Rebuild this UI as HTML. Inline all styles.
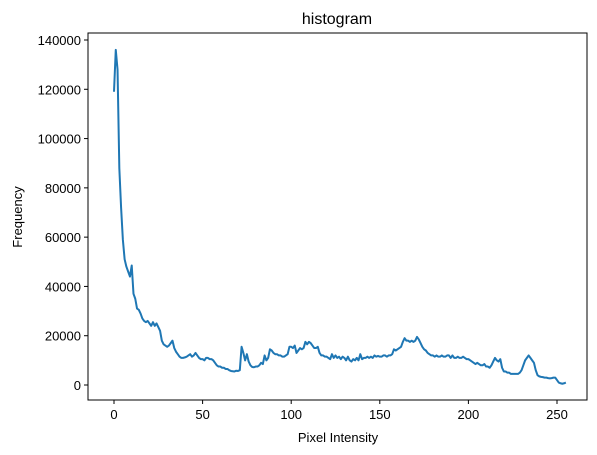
<!DOCTYPE html>
<html><head><meta charset="utf-8"><style>
body{margin:0;background:#fff;}
svg{display:block;font-family:"Liberation Sans","DejaVu Sans",sans-serif;}
</style></head><body>
<svg id="chart" width="597" height="455">
<rect x="0" y="0" width="597" height="455" fill="#fff"/>
<text x="337" y="24" text-anchor="middle" font-size="16">histogram</text>
<text x="338" y="442" text-anchor="middle" font-size="13">Pixel Intensity</text>
<text transform="translate(22,217) rotate(-90)" text-anchor="middle" font-size="13">Frequency</text>
<g id="ticks"></g>
<path id="line" fill="none" stroke="#1f77b4" stroke-width="2" stroke-linejoin="round"/>
<rect x="88" y="33" width="499" height="367" fill="none" stroke="#000" stroke-width="1"/>
</svg>
<script>
const xTicks=[0,50,100,150,200,250];
const yTicks=[0,20000,40000,60000,80000,100000,120000,140000];
const freqK=[119,136,128,88,72,59,51,48,46,44,48.5,37,35,31,30.5,29,27,26,25.5,26,25,24,25.5,24,25,23.5,22,18,16.5,16,15.5,16,17,18,15,13.5,12.5,11.5,11,11,11.2,11.5,12,12.5,11.5,12,13,12,11,10.5,10.5,10,11,11,10.5,10.5,10,9,8,7.5,7.5,7,7,6.5,6.5,6,5.7,5.6,5.5,5.8,5.7,6,15.5,13,10,12.5,9.5,8,7.3,7.2,7.5,7.5,8,9,8.5,12,10,11,14.5,14,13,12.5,12.5,12,12,11.5,11.5,12,12.5,15.5,15.5,15,16,13,14,15,14.5,15,17.5,16.5,17.5,17,16,15,15,15.5,13,12,12,11.5,11.5,11,10.5,12.5,11,12,11,11.5,10.5,11.5,11,10,11.5,10,9.5,10.5,10,11,10,12.5,10.5,11,11,11.5,11,11.5,11,12,11.5,11.8,11.5,11.5,12,12,11.5,12,12,12.5,14.5,14,14.5,15,15.5,17.5,19,18,18,17.5,18,17.5,18,19.5,18.5,17,15.5,14.5,14,13,12.5,12,12,11.5,12,11.5,11.5,12,11.5,11.5,12,12,11,12,11,11,11.5,11,11,11.5,11,10.5,10.5,10,9.5,9,8.5,9,8.5,8,8,8.5,7.5,7.5,7,8,9.5,11,10,9.5,10.5,7,5.5,5.5,5,5,4.5,4.5,4.5,4.5,4.5,5,6,8,10,11,12,11,10,9,6,4,3.5,3.3,3.2,3,3,2.8,2.7,2.8,3,3,2,1,0.7,0.5,0.7,1];
const freq=freqK.map(v=>v*1000);
const X=v=>114+v*(557-114)/250;
const Y=v=>385-v*(385-40)/140000;
const NS="http://www.w3.org/2000/svg";
const g=document.getElementById('ticks');
function mk(tag,attrs){const e=document.createElementNS(NS,tag);for(const k in attrs)e.setAttribute(k,attrs[k]);g.appendChild(e);return e;}
xTicks.forEach(t=>{
  const l=mk('line',{x1:X(t),x2:X(t),y1:400,y2:404,stroke:'#000'});
  
  
  const tx=mk('text',{x:X(t),y:419,'text-anchor':'middle','font-size':13});
  tx.textContent=t;
  
  
});
yTicks.forEach(t=>{
  const l=mk('line',{x1:84,x2:88,y1:Y(t),y2:Y(t),stroke:'#000'});
  
  
  const tx=mk('text',{x:81,y:Y(t)+5,'text-anchor':'end','font-size':13});
  tx.textContent=t;
  
  
});
document.getElementById('line').setAttribute('d',freq.map((v,i)=>(i?'L':'M')+X(i).toFixed(2)+','+Y(v).toFixed(2)).join(''));
</script>
</body></html>
